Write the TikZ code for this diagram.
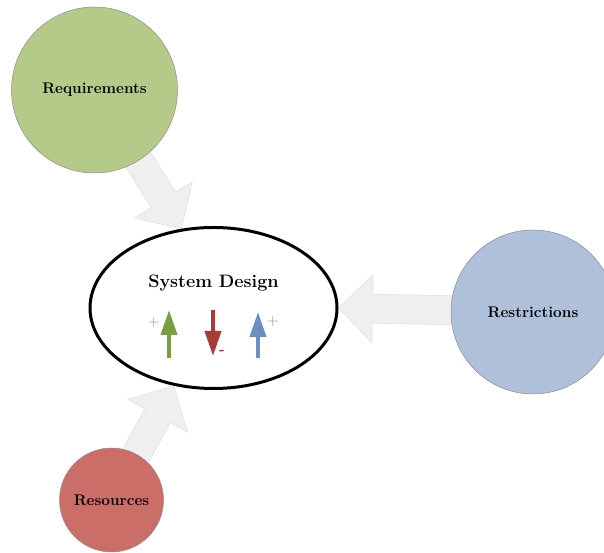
\documentclass[tikz,border=0pt]{standalone}
\usetikzlibrary{shapes.geometric,arrows.meta,calc,backgrounds}

\definecolor{reqfill}{HTML}{B5CA88}
\definecolor{resfill}{HTML}{CC6E68}
\definecolor{resrfill}{HTML}{AEC0DA}
\definecolor{blockfill}{HTML}{EFEFEF}
\definecolor{blockline}{HTML}{E2E2E2}
\definecolor{upgreen}{HTML}{77A043}
\definecolor{downred}{HTML}{A83B33}
\definecolor{upblue}{HTML}{6B8FC4}

\tikzset{
  topic/.style={circle, draw=black!45, line width=0.5pt, inner sep=0pt,
    font=\fontsize{15.4}{18}\selectfont\bfseries},
  design/.style={ellipse, draw=black, line width=3pt, inner sep=0pt,
    minimum width=247pt, minimum height=161pt},
  blockarrow/.style={fill=blockfill, draw=blockline, line width=0.6pt, line join=miter},
  trend/.style={line width=4pt, -{Triangle[length=25pt,width=16pt]}},
  sign/.style={inner sep=0pt, font=\fontsize{16}{16}\selectfont},
}

% thick block arrow from the centre of #1 to the point #2
\newcommand\blockarrow[2]{%
  \path ($(#2)!34pt!(#1)$) coordinate (#1-base);
  \filldraw[blockarrow]
    ($(#1)!14.5pt!90:(#2)$) -- ($(#1-base)!14.5pt!90:(#2)$) --
    ($(#1-base)!34pt!90:(#2)$) -- (#2) --
    ($(#1-base)!34pt!-90:(#2)$) -- ($(#1-base)!14.5pt!-90:(#2)$) --
    ($(#1)!14.5pt!-90:(#2)$) -- cycle;}

\begin{document}
\begin{tikzpicture}[x=1pt,y=1pt]
  \useasboundingbox (0,0) rectangle (604,553);

  % central block
  \node[design] (sys) at (213.5,245) {};
  \node[font=\fontsize{18}{21}\selectfont\bfseries] (title) at (213.5,270) {System Design};

  % trend arrows inside the design ellipse
  \coordinate (g0) at (169,195); \coordinate (g1) at (169,243);
  \coordinate (r0) at (213,243); \coordinate (r1) at (213,197);
  \coordinate (b0) at (258,195); \coordinate (b1) at (258,241);
  \draw[trend, upgreen] (g0) -- (g1);
  \draw[trend, downred] (r0) -- (r1);
  \draw[trend, upblue] (b0) -- (b1);
  \node[sign, text=upgreen] (gplus) at (154,230) {+};
  \node[sign, text=downred, font=\fontsize{15}{15}\selectfont\bfseries] (rminus) at (222,201) {-};
  \node[sign, text=upblue] (bplus) at (273,231) {+};

  % surrounding topics
  \node[topic, fill=reqfill, minimum size=166pt] (req) at (94.5,463) {Requirements};
  \node[topic, fill=resfill, minimum size=104pt] (res) at (111.5,53) {Resources};
  \node[topic, fill=resrfill, minimum size=164pt] (rst) at (533,241) {Restrictions};

  % block arrows behind the topic circles
  \begin{pgfonlayer}{background}
    \blockarrow{req}{sys.112}
    \blockarrow{res}{sys.243}
    \blockarrow{rst}{sys.0}
  \end{pgfonlayer}
\end{tikzpicture}
\end{document}
